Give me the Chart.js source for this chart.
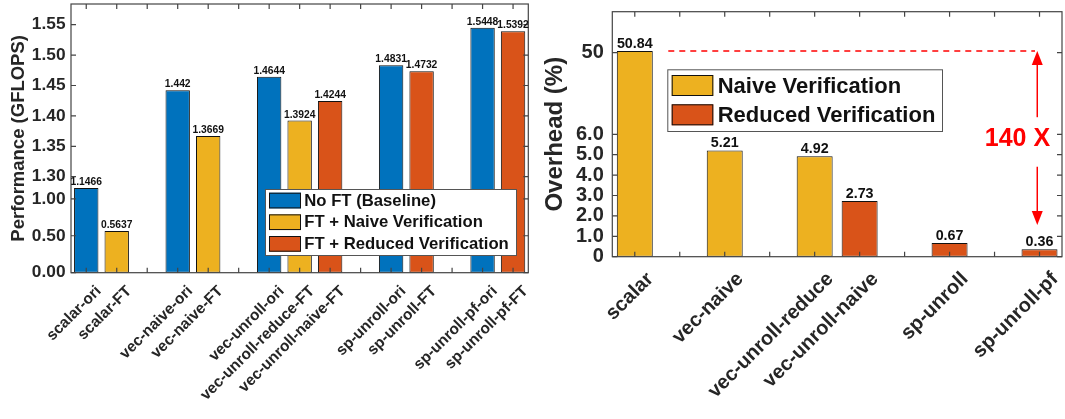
<!DOCTYPE html>
<html>
<head>
<meta charset="utf-8">
<script src="https://cdn.jsdelivr.net/npm/chart.js@4.4.1/dist/chart.umd.min.js"></script>
<style>
  html, body { margin: 0; padding: 0; background: #ffffff; }
  #wrap { position: relative; width: 1065px; height: 419px; overflow: hidden; }
  canvas { position: absolute; top: 0; }
  #perf { left: 0; }
  #ovh { left: 540px; }
</style>
</head>
<body>
<div id="wrap">
  <canvas id="perf" width="540" height="419"></canvas>
  <canvas id="ovh" width="525" height="419"></canvas>
</div>
<script>
// ---------- Performance (GFLOPS) per kernel ----------
const perfCategories = ['scalar-ori', 'scalar-FT', '', 'vec-naive-ori', 'vec-naive-FT', '',
  'vec-unroll-ori', 'vec-unroll-reduce-FT', 'vec-unroll-naive-FT', '',
  'sp-unroll-ori', 'sp-unroll-FT', '', 'sp-unroll-pf-ori', 'sp-unroll-pf-FT'];
const perfBaseline = [1.1466, null, null, 1.442, null, null, 1.4644, null, null, null, 1.4831, null, null, 1.5448, null];
const perfNaive    = [null, 0.5637, null, null, 1.3669, null, null, 1.3924, null, null, null, null, null, null, null];
const perfReduced  = [null, null, null, null, null, null, null, null, 1.4244, null, null, 1.4732, null, null, 1.5392];
const perfTicks = [0, 0.5, 1.0, 1.3, 1.35, 1.4, 1.45, 1.5, 1.55];
const perfSeriesNames = ['No FT (Baseline)', 'FT + Naive Verification', 'FT + Reduced Verification'];

// ---------- Verification overhead (%) ----------
const ovhCategories = ['scalar', '', 'vec-naive', '', 'vec-unroll-reduce', 'vec-unroll-naive', '', 'sp-unroll', '', 'sp-unroll-pf'];
const ovhNaive   = [50.84, null, 5.21, null, 4.92, null, null, null, null, null];
const ovhReduced = [null, null, null, null, null, 2.73, null, 0.67, null, 0.36];
const ovhTicks = [0, 1, 2, 3, 4, 5, 6, 50];
const ovhSeriesNames = ['Naive Verification', 'Reduced Verification'];
const speedupText = '140 X';

const BLUE = '#0072BD', YELLOW = '#EDB120', ORANGE = '#D95319';
const INK = '#262626';
const FONT = "'Liberation Sans', Arial, Helvetica, sans-serif";

// Linear axis with a break: values up to `split` take the lower `splitAt`
// fraction of the axis, the rest is stretched over the remainder.
class BrokenLinearScale extends Chart.LinearScale {
  buildTicks() {
    return (this.options.tickValues || []).map(v => ({ value: v }));
  }
  _toDecimal(v) {
    const split = this.options.brk.split, splitAt = this.options.brk.splitAt;
    if (v <= split) return (v - this.min) / (split - this.min) * splitAt;
    return splitAt + (v - split) / (this.max - split) * (1 - splitAt);
  }
  getPixelForValue(v) {
    if (v === null || v === undefined || isNaN(v)) return NaN;
    return this.getPixelForDecimal(this._toDecimal(v));
  }
  getValueForPixel(p) {
    const d = this.getDecimalForPixel(p);
    const split = this.options.brk.split, splitAt = this.options.brk.splitAt;
    if (d <= splitAt) return this.min + d / splitAt * (split - this.min);
    return split + (d - splitAt) / (1 - splitAt) * (this.max - split);
  }
}
BrokenLinearScale.id = 'brokenLinear';
BrokenLinearScale.defaults = { ticks: { callback: v => String(v) } };
Chart.register(BrokenLinearScale);

// Box frame with inward tick marks on all four sides
const axesFrame = {
  id: 'axesFrame',
  afterDatasetsDraw(chart, args, o) {
    const { ctx, chartArea: a } = chart;
    const x = chart.scales.x, y = chart.scales.y;
    ctx.save();
    ctx.strokeStyle = o.color;
    ctx.lineWidth = o.width;
    ctx.beginPath();
    x.ticks.forEach((t, i) => {
      const px = x.getPixelForTick(i);
      ctx.moveTo(px, a.bottom); ctx.lineTo(px, a.bottom - o.len);
      ctx.moveTo(px, a.top); ctx.lineTo(px, a.top + o.len);
    });
    y.ticks.forEach((t, i) => {
      const py = y.getPixelForTick(i);
      ctx.moveTo(a.left, py); ctx.lineTo(a.left + o.len, py);
      ctx.moveTo(a.right, py); ctx.lineTo(a.right - o.len, py);
    });
    ctx.stroke();
    ctx.strokeRect(a.left, a.top, a.right - a.left, a.bottom - a.top);
    ctx.restore();
  }
};

// Value printed above every bar
const barValues = {
  id: 'barValues',
  afterDatasetsDraw(chart, args, o) {
    const { ctx } = chart;
    ctx.save();
    ctx.font = 'bold ' + o.size + 'px ' + FONT;
    ctx.fillStyle = o.color;
    ctx.textAlign = 'center';
    ctx.textBaseline = 'alphabetic';
    chart.data.datasets.forEach((ds, di) => {
      const meta = chart.getDatasetMeta(di);
      ds.data.forEach((v, i) => {
        if (v === null) return;
        const bar = meta.data[i];
        ctx.fillText(String(v), bar.x, bar.y - o.gap);
      });
    });
    ctx.restore();
  }
};

// Framed legend box
const boxLegend = {
  id: 'boxLegend',
  afterDraw(chart, args, o) {
    const { ctx } = chart;
    ctx.save();
    ctx.fillStyle = '#ffffff';
    ctx.fillRect(o.x, o.y, o.w, o.h);
    ctx.strokeStyle = '#555555';
    ctx.lineWidth = 1;
    ctx.strokeRect(o.x + 0.5, o.y + 0.5, o.w, o.h);
    ctx.font = 'bold ' + o.size + 'px ' + FONT;
    ctx.textAlign = 'left';
    ctx.textBaseline = 'middle';
    chart.data.datasets.forEach((ds, i) => {
      const top = o.rowTop + i * o.step;
      ctx.fillStyle = ds.backgroundColor;
      ctx.fillRect(o.px, top, o.pw, o.ph);
      ctx.strokeStyle = '#111111';
      ctx.lineWidth = 1;
      ctx.strokeRect(o.px + 0.5, top + 0.5, o.pw - 1, o.ph - 1);
      ctx.fillStyle = '#111111';
      ctx.fillText(ds.label, o.tx, top + o.ph / 2 + o.textDy);
    });
    ctx.restore();
  }
};

// Dashed reference line, arrows and ratio text on the overhead chart
const speedupNote = {
  id: 'speedupNote',
  afterDraw(chart, args, o) {
    const { ctx } = chart;
    const x = chart.scales.x, y = chart.scales.y;
    const red = '#ff0000';
    ctx.save();
    ctx.strokeStyle = red;
    ctx.fillStyle = red;
    ctx.lineWidth = 1.3;
    ctx.setLineDash([6, 5]);
    const ly = y.getPixelForValue(o.level);
    ctx.beginPath();
    ctx.moveTo(x.getPixelForValue(o.lineFrom), ly);
    ctx.lineTo(x.getPixelForValue(o.lineTo), ly);
    ctx.stroke();
    ctx.setLineDash([]);
    const ax = x.getPixelForValue(o.arrowX);
    const arrow = (fromV, toV) => {
      const y0 = y.getPixelForValue(fromV), y1 = y.getPixelForValue(toV);
      const dir = Math.sign(y1 - y0);
      ctx.lineWidth = 1.5;
      ctx.beginPath();
      ctx.moveTo(ax, y0); ctx.lineTo(ax, y1 - dir * 10);
      ctx.stroke();
      ctx.beginPath();
      ctx.moveTo(ax, y1);
      ctx.lineTo(ax - 5.5, y1 - dir * 14);
      ctx.lineTo(ax + 5.5, y1 - dir * 14);
      ctx.closePath();
      ctx.fill();
    };
    arrow(o.upFrom, o.level);
    arrow(o.downFrom, o.downTo);
    ctx.font = 'bold 25px ' + FONT;
    ctx.textAlign = 'center';
    ctx.textBaseline = 'middle';
    ctx.fillText(o.text, x.getPixelForValue(o.textX), y.getPixelForValue(o.textY));
    ctx.restore();
  }
};

Chart.defaults.font.family = FONT;
Chart.defaults.color = INK;

const barStyle = { borderColor: '#111111', borderWidth: 1, borderSkipped: false, grouped: false,
  barPercentage: 0.8, categoryPercentage: 1.0 };

// fixed axis boxes so the plot areas sit exactly where wanted
const fixHeight = h => s => { s.height = h; s.paddingLeft = 0; s.paddingRight = 0; };
const fixWidth = w => s => { s.width = w; s.paddingTop = 0; s.paddingBottom = 0; };

// ---------- left chart ----------
new Chart(document.getElementById('perf'), {
  type: 'bar',
  data: {
    labels: perfCategories,
    datasets: [
      Object.assign({ label: perfSeriesNames[0], data: perfBaseline, backgroundColor: BLUE }, barStyle),
      Object.assign({ label: perfSeriesNames[1], data: perfNaive, backgroundColor: YELLOW }, barStyle),
      Object.assign({ label: perfSeriesNames[2], data: perfReduced, backgroundColor: ORANGE }, barStyle)
    ]
  },
  options: {
    responsive: false,
    animation: false,
    devicePixelRatio: 1,
    layout: { padding: { left: 0, right: 11.7, top: 4, bottom: 0 } },
    plugins: {
      legend: { display: false },
      tooltip: { enabled: false },
      axesFrame: { color: '#444444', width: 1.2, len: 5 },
      barValues: { size: 10.3, color: '#111111', gap: 3 },
      boxLegend: { x: 265, y: 189, w: 251, h: 66, px: 269, pw: 32, ph: 15.7,
        rowTop: 192.7, step: 21.65, tx: 304.3, size: 16.7, textDy: 0.5 }
    },
    scales: {
      x: {
        type: 'category',
        grid: { display: false, drawTicks: false },
        border: { display: false },
        ticks: { autoSkip: false, minRotation: 45, maxRotation: 45, padding: 9.5, labelOffset: 12.5,
          color: INK, font: { size: 15.5, weight: 'bold' } },
        afterFit: fixHeight(146.3)
      },
      y: {
        type: 'brokenLinear',
        min: 0, max: 1.584,
        brk: { split: 1.3, splitAt: 0.3573 },
        tickValues: perfTicks,
        grid: { display: false, drawTicks: false },
        border: { display: false },
        ticks: { padding: 5.5, color: INK, font: { size: 17.3, weight: 'bold' },
          callback: v => v.toFixed(2) },
        title: { display: true, text: 'Performance (GFLOPS)', color: INK,
          font: { size: 18.5, weight: 'bold' }, padding: { top: 8, bottom: 0 } },
        afterFit: fixWidth(71)
      }
    }
  },
  plugins: [axesFrame, barValues, boxLegend]
});

// ---------- right chart ----------
new Chart(document.getElementById('ovh'), {
  type: 'bar',
  data: {
    labels: ovhCategories,
    datasets: [
      Object.assign({ label: ovhSeriesNames[0], data: ovhNaive, backgroundColor: YELLOW }, barStyle),
      Object.assign({ label: ovhSeriesNames[1], data: ovhReduced, backgroundColor: ORANGE }, barStyle)
    ]
  },
  options: {
    responsive: false,
    animation: false,
    devicePixelRatio: 1,
    layout: { padding: { left: 0, right: 3, top: 11.7, bottom: 0 } },
    plugins: {
      legend: { display: false },
      tooltip: { enabled: false },
      axesFrame: { color: '#444444', width: 1.2, len: 5 },
      barValues: { size: 14.3, color: '#111111', gap: 3.5 },
      boxLegend: { x: 127.3, y: 69.3, w: 274.7, h: 61.7, px: 131.7, pw: 41.6, ph: 21,
        rowTop: 75, step: 29.3, tx: 177.7, size: 22, textDy: 1.5 },
      speedupNote: { level: 50.84, lineFrom: 0.745, lineTo: 8.9, arrowX: 8.95,
        upFrom: 15.2, downFrom: 4.41, downTo: 1.55, textX: 8.51, textY: 5.77, text: speedupText }
    },
    scales: {
      x: {
        type: 'category',
        grid: { display: false, drawTicks: false },
        border: { display: false },
        ticks: { autoSkip: false, minRotation: 45, maxRotation: 45, padding: 10.8, labelOffset: 15.5,
          color: INK, font: { size: 20, weight: 'bold' } },
        afterFit: fixHeight(162.3)
      },
      y: {
        type: 'brokenLinear',
        min: 0, max: 72,
        brk: { split: 6, splitAt: 0.4996 },
        tickValues: ovhTicks,
        grid: { display: false, drawTicks: false },
        border: { display: false },
        ticks: { padding: 8.5, color: INK, font: { size: 20, weight: 'bold' },
          callback: v => (v === 0 ? '0' : v >= 10 ? String(v) : v.toFixed(1)) },
        title: { display: true, text: 'Overhead (%)', color: INK,
          font: { size: 24, weight: 'bold' }, padding: { top: 1.2, bottom: 0 } },
        afterFit: fixWidth(72.3)
      }
    }
  },
  plugins: [axesFrame, barValues, boxLegend, speedupNote]
});
</script>
</body>
</html>
